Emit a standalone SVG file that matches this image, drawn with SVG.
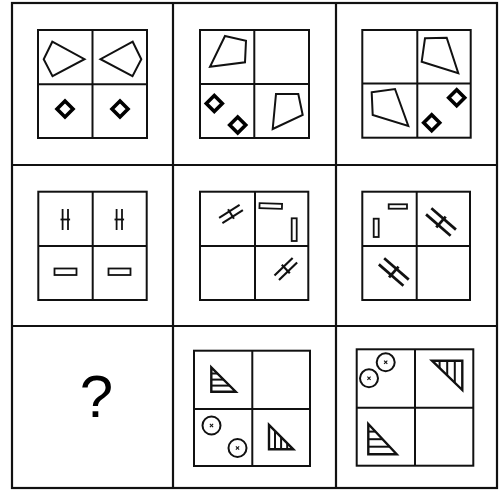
<svg xmlns="http://www.w3.org/2000/svg" width="502" height="490" viewBox="0 0 502 490">
<style>
.grid{fill:none;stroke:#111;stroke-width:2.2}
.box{fill:none;stroke:#111;stroke-width:2}
.quad{fill:none;stroke:#111;stroke-width:2;stroke-linejoin:miter}
.dia{fill:none;stroke:#000;stroke-width:3.6}
.ln{stroke:#111;stroke-width:1.8;fill:none}
.rc{fill:none;stroke:#111;stroke-width:1.8}
.tri{fill:none;stroke:#111;stroke-width:2.4}
.hat{stroke:#111;stroke-width:2}
.cir{fill:none;stroke:#111;stroke-width:2}
.x{stroke:#111;stroke-width:1.1}
.q{font-family:"Liberation Sans",Arial,sans-serif;font-size:60px;fill:#000}
</style>
<defs>
<g id="dbl">
<line class="ln" x1="-2.7" y1="-10.5" x2="-2.7" y2="10.5"/>
<line class="ln" x1="2.7" y1="-10.5" x2="2.7" y2="10.5"/>
<line class="ln" x1="-4.8" y1="0" x2="4.8" y2="0"/>
</g>
<path id="dm" class="dia" d="M0,-8 L8,0 L0,8 L-8,0 Z"/>
<g id="cx">
<circle class="cir" r="9"/>
<line class="x" x1="-1.6" y1="-1.6" x2="1.6" y2="1.6"/>
<line class="x" x1="-1.6" y1="1.6" x2="1.6" y2="-1.6"/>
</g>
</defs>
<rect width="502" height="490" fill="#fff"/>
<g id="grid">
<rect class="grid" x="12" y="3" width="485" height="485"/>
<line class="grid" x1="173" y1="3" x2="173" y2="488"/>
<line class="grid" x1="336" y1="3" x2="336" y2="488"/>
<line class="grid" x1="12" y1="165" x2="497" y2="165"/>
<line class="grid" x1="12" y1="326" x2="497" y2="326"/>
</g>
<g id="cell1">
<rect class="box" x="38" y="30" width="109" height="108"/>
<line class="box" x1="92.5" y1="30" x2="92.5" y2="138"/>
<line class="box" x1="38" y1="84.3" x2="147" y2="84.3"/>
<polygon class="quad" points="52.3,41.7 84.5,59.2 52.5,76.2 43.7,59.3"/>
<polygon class="quad" points="132.7,41.7 100.5,59.2 132.5,76.2 141.3,59.3"/>
<use href="#dm" x="65" y="109"/>
<use href="#dm" x="120" y="109"/>
</g>
<g id="cell2">
<rect class="box" x="200" y="30" width="109" height="108"/>
<line class="box" x1="254.3" y1="30" x2="254.3" y2="138"/>
<line class="box" x1="200" y1="84" x2="309" y2="84"/>
<polygon class="quad" points="225,36 246,40.7 245,62.3 210,66.7"/>
<polygon class="quad" points="276,94 298.3,94 302.7,115 272.7,129"/>
<use href="#dm" x="214.3" y="103.5"/>
<use href="#dm" x="237.7" y="125"/>
</g>
<g id="cell3">
<rect class="box" x="362.3" y="30" width="108.4" height="107.7"/>
<line class="box" x1="417.3" y1="30" x2="417.3" y2="137.7"/>
<line class="box" x1="362.3" y1="83.5" x2="470.7" y2="83.5"/>
<polygon class="quad" points="425,38.3 446.7,37.7 458.3,73.3 421.7,61.7"/>
<polygon class="quad" points="371.7,92.3 395,89 408.3,126 372.7,115"/>
<use href="#dm" x="456.7" y="97.7"/>
<use href="#dm" x="431.7" y="122.7"/>
</g>
<g id="cell4">
<rect class="box" x="38.3" y="191.7" width="108.4" height="108.3"/>
<line class="box" x1="92.7" y1="191.7" x2="92.7" y2="300"/>
<line class="box" x1="38.3" y1="246" x2="146.7" y2="246"/>
<use href="#dbl" transform="translate(65.3,219.5)"/>
<use href="#dbl" transform="translate(119.3,219.5)"/>
<rect class="rc" x="54.5" y="268.5" width="22" height="6.5"/>
<rect class="rc" x="108.5" y="268.5" width="22" height="6.5"/>
</g>
<g id="cell5">
<rect class="box" x="200" y="191.7" width="108.3" height="108.3"/>
<line class="box" x1="255" y1="191.7" x2="255" y2="300"/>
<line class="box" x1="200" y1="246" x2="308.3" y2="246"/>
<use href="#dbl" transform="translate(231,214) rotate(58) scale(1.15)"/>
<use href="#dbl" transform="translate(285.8,269) rotate(46) scale(1.2)"/>
<rect class="rc" x="259.5" y="203.5" width="22.5" height="5" transform="rotate(2 270.7 206)"/>
<rect class="rc" x="291.7" y="218.3" width="5" height="22.7"/>
</g>
<g id="cell6">
<rect class="box" x="362.3" y="191.7" width="107.7" height="108.3"/>
<line class="box" x1="416.7" y1="191.7" x2="416.7" y2="300"/>
<line class="box" x1="362.3" y1="246" x2="470" y2="246"/>
<rect class="rc" x="388.7" y="204.3" width="18.3" height="4.4"/>
<rect class="rc" x="373.7" y="218.7" width="5" height="18.3"/>
<use href="#dbl" transform="translate(441,222) rotate(-49) scale(1.5,1.55)"/>
<use href="#dbl" transform="translate(393.8,272) rotate(-49) scale(1.5,1.55)"/>
</g>
<g id="cell7">
<text class="q" x="96.5" y="417" text-anchor="middle">?</text>
</g>
<g id="cell8">
<rect class="box" x="194" y="350.7" width="116" height="115.3"/>
<line class="box" x1="252.3" y1="350.7" x2="252.3" y2="466"/>
<line class="box" x1="194" y1="409" x2="310" y2="409"/>
<polygon class="tri" points="211.3,367.5 211.3,391.7 235.7,391.7"/>
<line class="hat" x1="211.3" y1="373.5" x2="217.3" y2="373.5"/>
<line class="hat" x1="211.3" y1="379.6" x2="223.5" y2="379.6"/>
<line class="hat" x1="211.3" y1="385.6" x2="229.5" y2="385.6"/>
<polygon class="tri" points="269,425 269,449.3 293.3,449.3"/>
<line class="hat" x1="275" y1="431" x2="275" y2="449.3"/>
<line class="hat" x1="281.1" y1="437.1" x2="281.1" y2="449.3"/>
<line class="hat" x1="287.2" y1="443.2" x2="287.2" y2="449.3"/>
<use href="#cx" x="211.5" y="425.5"/>
<use href="#cx" x="237.5" y="448"/>
</g>
<g id="cell9">
<rect class="box" x="356.7" y="349.3" width="116.6" height="116.4"/>
<line class="box" x1="415" y1="349.3" x2="415" y2="465.7"/>
<line class="box" x1="356.7" y1="407.7" x2="473.3" y2="407.7"/>
<use href="#cx" x="385.7" y="362.3"/>
<use href="#cx" x="369" y="378.3"/>
<polygon class="tri" points="432,360.7 462.3,360.7 462.3,390"/>
<line class="hat" x1="439.6" y1="360.7" x2="439.6" y2="368"/>
<line class="hat" x1="447.2" y1="360.7" x2="447.2" y2="375.4"/>
<line class="hat" x1="454.8" y1="360.7" x2="454.8" y2="382.7"/>
<polygon class="tri" points="368.3,424 368.3,454.3 396.7,454.3"/>
<line class="hat" x1="368.3" y1="431.6" x2="375.4" y2="431.6"/>
<line class="hat" x1="368.3" y1="439.2" x2="382.5" y2="439.2"/>
<line class="hat" x1="368.3" y1="446.7" x2="389.6" y2="446.7"/>
</g>
</svg>
